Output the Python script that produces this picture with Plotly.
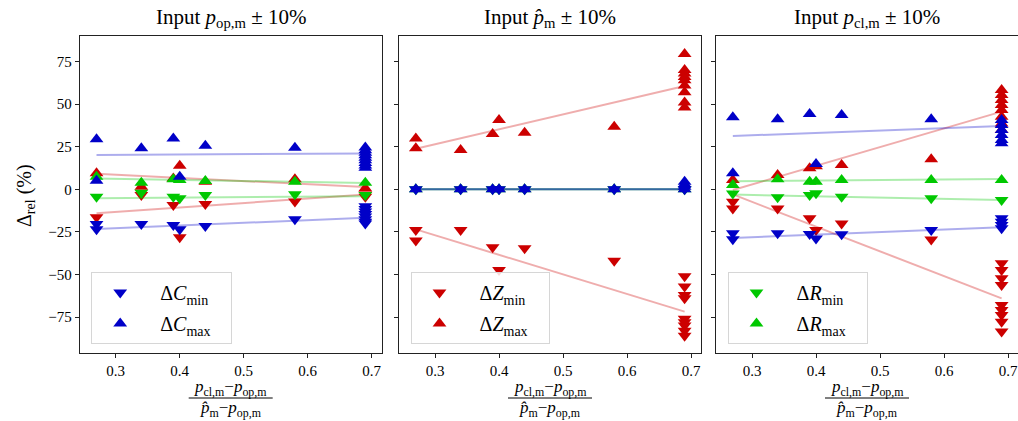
import plotly.graph_objects as go

# ---------------- data ----------------
X_COLS = [0.27, 0.34, 0.39, 0.40, 0.44, 0.58, 0.69]
X_FIT = [0.27, 0.69]

# Panel 1 : input p_op,m +/- 10 %
P1_C_MIN = [[-20.4, -23.5], [-20.4], [-21.0], [-23.5], [-21.5], [-17.6],
            [-10.0, -11.5, -13.0, -14.5, -16.0, -17.5, -19.0, -20.0]]
P1_C_MAX = [[29.4, 5.1], [24.1], [29.9], [7.4], [25.6], [24.4],
            [24.5, 23.0, 21.5, 20.0, 18.5, 17.0, 15.5, 14.0, 12.7]]
P1_Z_MIN = [[-16.4], [-3.3], [-9.2], [-28.2], [-8.6], [-7.2], [-3.0, -4.3]]
P1_Z_MAX = [[9.4], [1.5], [6.4], [13.9], [4.5], [5.9], [0.6]]
P1_R_MIN = [[-4.3], [-2.0], [-4.3], [-5.3], [-3.3], [-2.9], [-3.3]]
P1_R_MAX = [[7.4], [3.9], [5.9], [5.5], [4.9], [4.5], [3.9]]
P1_FIT_C_MIN = [-23.3, -16.7]
P1_FIT_C_MAX = [20.1, 21.1]
P1_FIT_Z_MIN = [-14.1, -3.0]
P1_FIT_Z_MAX = [9.2, 1.3]
P1_FIT_R_MIN = [-5.3, -4.0]
P1_FIT_R_MAX = [6.4, 3.7]

# Panel 2 : input p^_m +/- 10 %
P2_C_MIN = [[0.0], [0.0], [0.0], [0.0], [0.0], [0.0], [0.0]]
P2_C_MAX = [[0.0], [0.0], [0.0], [0.0], [0.0], [0.0], [0.0, 1.5, 3.0, 4.5]]
P2_Z_MIN = [[-23.9, -30.1], [-23.9], [-34.0], [-47.4], [-34.6], [-41.9],
            [-51.0, -57.0, -62.0, -64.0, -76.0, -78.0, -80.0, -83.0, -86.0]]
P2_Z_MAX = [[29.9, 24.1], [23.1], [32.5], [40.7], [33.2], [36.8],
            [79.5, 70.0, 68.0, 66.0, 64.0, 61.0, 57.0, 51.0, 48.0]]
P2_R_MIN = [[0.0], [0.0], [0.0], [0.0], [0.0], [0.0], [0.0]]
P2_R_MAX = [[0.0], [0.0], [0.0], [0.0], [0.0], [0.0], [0.0]]
P2_FIT_C_MIN = [0.0, 0.0]
P2_FIT_C_MAX = [0.0, 0.0]
P2_FIT_Z_MIN = [-23.5, -71.8]
P2_FIT_Z_MAX = [23.8, 60.6]
P2_FIT_R_MIN = [0.0, 0.0]
P2_FIT_R_MAX = [0.0, 0.0]

# Panel 3 : input p_cl,m +/- 10 %
P3_C_MIN = [[-25.8, -29.3], [-25.8], [-26.2], [-28.8], [-26.4], [-23.9],
            [-17.0, -19.0, -20.9, -22.9]]
P3_C_MAX = [[42.3, 9.4], [41.1], [44.2], [14.8], [43.6], [41.1],
            [40.7, 37.7, 34.8, 31.9, 28.9, 27.0]]
P3_Z_MIN = [[-7.3, -11.2], [-11.2], [-17.0], [-23.9], [-20.0], [-29.4],
            [-43.4, -47.4, -52.2, -56.2, -67.9, -70.8, -73.8, -77.7, -83.5]]
P3_Z_MAX = [[5.5], [8.4], [12.3], [13.5], [14.3], [17.6],
            [58.3, 55.4, 52.4, 49.5, 46.5, 42.6, 38.7, 34.8]]
P3_R_MIN = [[-2.4], [-4.7], [-3.3], [-2.3], [-4.3], [-5.3], [-6.3]]
P3_R_MAX = [[2.5], [5.9], [4.5], [4.5], [5.5], [5.5], [5.5]]
P3_FIT_C_MIN = [-28.5, -22.3]
P3_FIT_C_MAX = [31.3, 37.2]
P3_FIT_Z_MIN = [-3.0, -64.0]
P3_FIT_Z_MAX = [-0.4, 45.6]
P3_FIT_R_MIN = [-3.1, -6.3]
P3_FIT_R_MAX = [4.7, 6.1]

TITLES = ["Input <i>p</i><sub>op,m</sub> ± 10%",
          "Input <i>p\u0302</i><sub>m</sub> ± 10%",
          "Input <i>p</i><sub>cl,m</sub> ± 10%"]
LEG_NAMES = {"C": "Δ<i>C</i>", "Z": "Δ<i>Z</i>", "R": "Δ<i>R</i>"}
X_TICKS = [0.3, 0.4, 0.5, 0.6, 0.7]
Y_TICKS = [-75, -50, -25, 0, 25, 50, 75]

# ---------------- styling ----------------
W, H = 1018, 421
FONT = "Liberation Serif"
COLORS = {"C": "#0000c8", "Z": "#cc0000", "R": "#00c800"}
LINE_COLORS = {"C": "rgba(0,0,200,0.32)", "Z": "rgba(204,0,0,0.32)",
               "R": "rgba(0,200,0,0.32)"}
X_PIX = [(79.7, 381.7), (399.0, 701.0), (716.0, 1018.0)]
Y_TOP, Y_BOT = 36.0, 352.7
LEGEND_OF_PANEL = ["C", "Z", "R"]

panels = [
    {"C": (P1_C_MIN, P1_C_MAX, P1_FIT_C_MIN, P1_FIT_C_MAX),
     "Z": (P1_Z_MIN, P1_Z_MAX, P1_FIT_Z_MIN, P1_FIT_Z_MAX),
     "R": (P1_R_MIN, P1_R_MAX, P1_FIT_R_MIN, P1_FIT_R_MAX)},
    {"C": (P2_C_MIN, P2_C_MAX, P2_FIT_C_MIN, P2_FIT_C_MAX),
     "Z": (P2_Z_MIN, P2_Z_MAX, P2_FIT_Z_MIN, P2_FIT_Z_MAX),
     "R": (P2_R_MIN, P2_R_MAX, P2_FIT_R_MIN, P2_FIT_R_MAX)},
    {"C": (P3_C_MIN, P3_C_MAX, P3_FIT_C_MIN, P3_FIT_C_MAX),
     "Z": (P3_Z_MIN, P3_Z_MAX, P3_FIT_Z_MIN, P3_FIT_Z_MAX),
     "R": (P3_R_MIN, P3_R_MAX, P3_FIT_R_MIN, P3_FIT_R_MAX)},
]


def expand(cols):
    xs, ys = [], []
    for x, vals in zip(X_COLS, cols):
        for v in vals:
            xs.append(x)
            ys.append(v)
    return xs, ys


fig = go.Figure()
NB = "\u00a0"

for i, panel in enumerate(panels):
    ax = "" if i == 0 else str(i + 1)
    legname = "legend" if i == 0 else "legend" + str(i + 1)
    for q in ["Z", "R", "C"]:
        vmin, vmax, fmin, fmax = panel[q]
        show = (LEGEND_OF_PANEL[i] == q)
        for kind, vals, sym in (("min", vmin, "triangle-down"),
                                ("max", vmax, "triangle-up")):
            xs, ys = expand(vals)
            fig.add_trace(go.Scatter(
                x=xs, y=ys, mode="markers", xaxis="x" + ax, yaxis="y" + ax,
                marker=dict(symbol=sym, size=12, color=COLORS[q],
                            line=dict(width=0)),
                name=NB * 4 + LEG_NAMES[q] + "<sub>" + kind + "</sub>" + NB * 3,
                showlegend=show, legend=legname,
                legendgroup="%s%d%s" % (q, i, kind)))
        for fv in (fmin, fmax):
            fig.add_trace(go.Scatter(
                x=X_FIT, y=fv, mode="lines", xaxis="x" + ax, yaxis="y" + ax,
                line=dict(color=LINE_COLORS[q], width=2),
                showlegend=False, hoverinfo="skip"))

layout = dict(
    width=W, height=H, margin=dict(l=0, r=0, t=0, b=0),
    plot_bgcolor="white", paper_bgcolor="white",
    font=dict(family=FONT, size=14, color="black"),
    showlegend=True,
)
ydom = [(H - Y_BOT) / H, (H - Y_TOP) / H]
annotations = []
shapes = []
for i in range(3):
    ax = "" if i == 0 else str(i + 1)
    x0, x1 = X_PIX[i]
    layout["xaxis" + ax] = dict(
        domain=[x0 / W, x1 / W], anchor="y" + ax, range=[0.2437, 0.7156],
        tickvals=X_TICKS, ticktext=["%.1f" % t for t in X_TICKS],
        ticks="outside", ticklen=4, tickwidth=1, tickcolor="#222",
        showline=True, linecolor="#222", linewidth=1, mirror=True,
        showgrid=False, zeroline=False,
        tickfont=dict(family=FONT, size=15))
    layout["yaxis" + ax] = dict(
        domain=ydom, anchor="x" + ax, range=[-95.9, 90.0],
        tickvals=Y_TICKS, ticks="outside", ticklen=4, tickwidth=1,
        tickcolor="#222", showline=True, linecolor="#222", linewidth=1,
        mirror=True, showgrid=False, zeroline=False,
        showticklabels=(i == 0), tickfont=dict(family=FONT, size=15))
    cx = (x0 + x1) / 2 / W
    annotations.append(dict(
        text=TITLES[i], x=cx, y=(H - 18) / H, xref="paper", yref="paper",
        showarrow=False, xanchor="center", yanchor="middle",
        font=dict(family=FONT, size=21)))
    annotations.append(dict(
        text="<i>p</i><sub>cl,m</sub>−<i>p</i><sub>op,m</sub>",
        x=cx, y=(H - 388) / H, xref="paper", yref="paper", showarrow=False,
        xanchor="center", yanchor="middle", font=dict(family=FONT, size=17)))
    annotations.append(dict(
        text="<i>p\u0302</i><sub>m</sub>−<i>p</i><sub>op,m</sub>",
        x=cx, y=(H - 409) / H, xref="paper", yref="paper", showarrow=False,
        xanchor="center", yanchor="middle", font=dict(family=FONT, size=17)))
    shapes.append(dict(type="line", xref="paper", yref="paper",
                       x0=cx - 42 / W, x1=cx + 42 / W,
                       y0=(H - 398) / H, y1=(H - 398) / H,
                       line=dict(color="black", width=1)))
    legname = "legend" if i == 0 else "legend" + str(i + 1)
    layout[legname] = dict(
        x=(x0 + 11.5) / W, y=(H - 272) / H, xanchor="left", yanchor="top",
        bgcolor="rgba(255,255,255,0.85)", bordercolor="#d6d6d6",
        borderwidth=1, font=dict(family=FONT, size=20),
        indentation=8,
        traceorder="grouped", tracegroupgap=2, itemclick=False)

annotations.append(dict(
    text="Δ<sub>rel</sub> (%)", x=25 / W, y=(H - 196) / H,
    xref="paper", yref="paper", showarrow=False, textangle=-90,
    xanchor="center", yanchor="middle", font=dict(family=FONT, size=20)))
layout["annotations"] = annotations
layout["shapes"] = shapes
fig.update_layout(**layout)

fig.write_html("out.html")
